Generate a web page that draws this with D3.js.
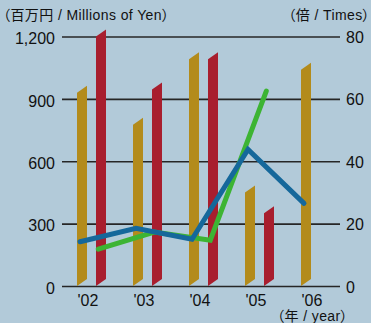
<!DOCTYPE html>
<html>
<head>
<meta charset="utf-8">
<script src="https://cdn.jsdelivr.net/npm/d3@7"></script>
<style>
  html, body { margin: 0; padding: 0; background: #b2cad9; }
  svg { display: block; }
  text { font-family: "Liberation Sans", Arial, "Noto Sans CJK JP", sans-serif; fill: #111; }
  .caption { font-feature-settings: "palt"; letter-spacing: 0.4px; }
</style>
</head>
<body>
<svg id="chart" width="371" height="323"></svg>
<script>
// Fiscal years
const years = ["'02", "'03", "'04", "'05", "'06"];
// Amounts, millions of yen (left axis)
const goldBars = [930, 775, 1090, 450, 1040];
const redBars = [1200, 945, 1090, 350, null];
// Multiples, times (right axis)
const blueLine = [14.2, 18.5, 15.0, 43.8, 26.5];
const greenLine = [11.8, 17.3, 14.7, 62.5, null];
// Axis ticks
const leftTicks = [0, 300, 600, 900, 1200];
const rightTicks = [0, 20, 40, 60, 80];

const svg = d3.select("#chart");
const plotLeft = 62, plotRight = 340, plotBottom = 286, plotTop = 36.5;

const x = d3.scalePoint().domain(years).range([91.5, 315.5]);
const yL = d3.scaleLinear().domain([0, 1200]).range([plotBottom, plotTop]);
const yR = d3.scaleLinear().domain([0, 80]).range([plotBottom, plotTop]);

const barW = 10, skew = 7;

// Gridlines and left tick labels
const leftAxis = svg.append("g")
  .attr("transform", `translate(${plotLeft},0)`)
  .call(d3.axisLeft(yL).tickValues(leftTicks).tickFormat(d3.format(","))
    .tickSize(-(plotRight - plotLeft)).tickPadding(7));
leftAxis.select(".domain").remove();
leftAxis.selectAll("line").attr("stroke", "#262626").attr("stroke-width", 1.7);
leftAxis.selectAll("text").attr("font-size", 16).attr("dy", "0.45em")
  .style("font-family", "'Liberation Sans', Arial, sans-serif").attr("fill", "#111");

// Right tick labels
const rightAxis = svg.append("g")
  .attr("transform", `translate(${plotRight},0)`)
  .call(d3.axisRight(yR).tickValues(rightTicks).tickSize(0).tickPadding(6));
rightAxis.select(".domain").remove();
rightAxis.selectAll("text").attr("font-size", 16).attr("dy", "0.38em")
  .style("font-family", "'Liberation Sans', Arial, sans-serif").attr("fill", "#111");

// Slanted bars: parallelograms rising to the right
function barPath(x0, v) {
  const yb = yL(0), yt = yL(v);
  return `M${x0},${yb}L${x0},${yt}L${x0 + barW},${yt - skew}L${x0 + barW},${yb - skew}Z`;
}

svg.append("g").selectAll("path")
  .data(years.map((d, i) => ({ year: d, v: goldBars[i] })).filter(d => d.v != null))
  .join("path")
  .attr("d", d => barPath(x(d.year) - 14.5, d.v))
  .attr("fill", "#b38b1b");

svg.append("g").selectAll("path")
  .data(years.map((d, i) => ({ year: d, v: redBars[i] })).filter(d => d.v != null))
  .join("path")
  .attr("d", d => barPath(x(d.year) + 4.5, d.v))
  .attr("fill", "#a81e2e");

// Lines on the right axis
const greenPts = years.map((d, i) => ({ year: d, v: greenLine[i] })).filter(d => d.v != null);
const bluePts = years.map((d, i) => ({ year: d, v: blueLine[i] }));

svg.append("path")
  .datum(greenPts)
  .attr("d", d3.line().x(d => x(d.year) + 6.8).y(d => yR(d.v)))
  .attr("fill", "none").attr("stroke", "#3db433").attr("stroke-width", 5)
  .attr("stroke-linecap", "round").attr("stroke-linejoin", "miter");

svg.append("path")
  .datum(bluePts)
  .attr("d", d3.line().x(d => x(d.year) - 11.5).y(d => yR(d.v)))
  .attr("fill", "none").attr("stroke", "#15689b").attr("stroke-width", 5)
  .attr("stroke-linecap", "round").attr("stroke-linejoin", "miter");

// Category labels
svg.append("g").selectAll("text")
  .data(years)
  .join("text")
  .attr("x", d => x(d) - 3.5)
  .attr("y", 306)
  .attr("text-anchor", "middle")
  .attr("font-size", 16)
  .text(d => d);

// Unit captions
svg.append("text").attr("class", "caption").attr("x", 3).attr("y", 19.5).attr("font-size", 14)
  .text("（百万円 / Millions of Yen）");
svg.append("text").attr("class", "caption").attr("x", 370).attr("y", 19.5).attr("font-size", 14)
  .attr("text-anchor", "end").text("（倍 / Times）");
svg.append("text").attr("class", "caption").attr("x", 348).attr("y", 321).attr("font-size", 14)
  .attr("text-anchor", "end").text("（年 / year）");
</script>
</body>
</html>
